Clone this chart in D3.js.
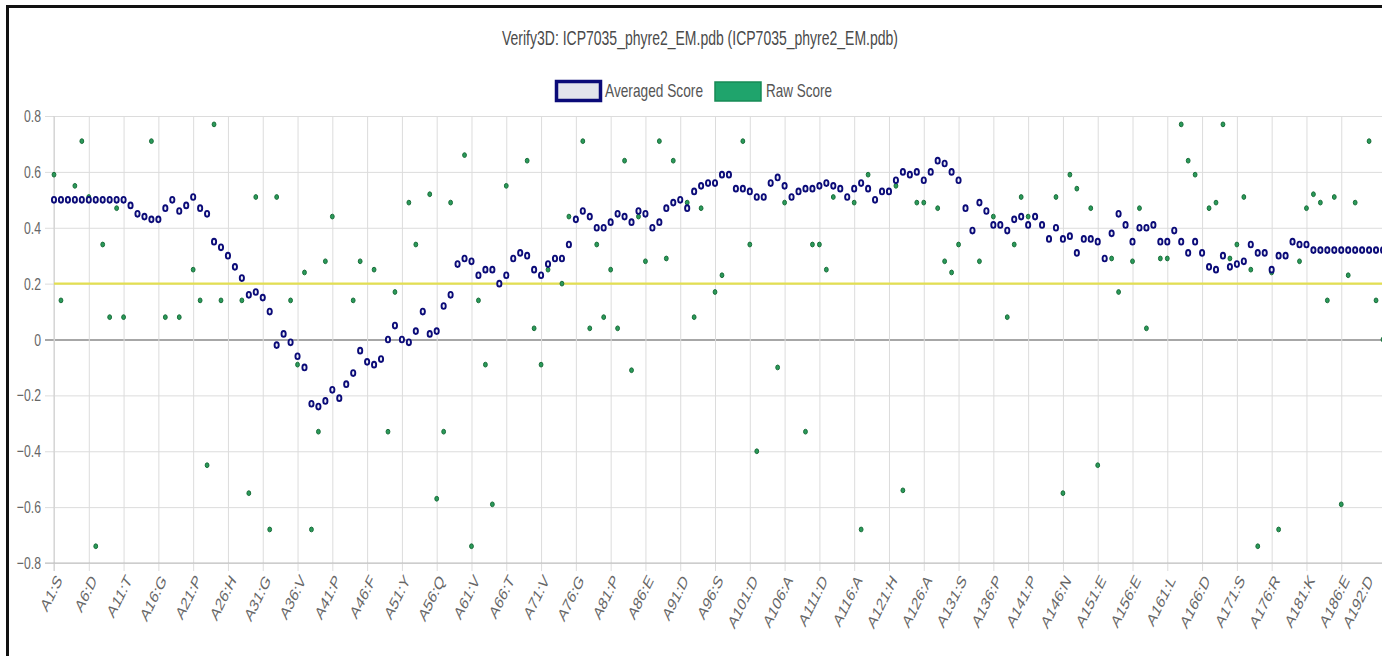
<!DOCTYPE html>
<html><head><meta charset="utf-8">
<script src="https://cdn.jsdelivr.net/npm/d3@7"></script>
<style>html,body{margin:0;padding:0;background:#fff;overflow:hidden}</style>
</head><body><svg id="c" width="1382" height="656"></svg>
<script>
const title = "Verify3D: ICP7035_phyre2_EM.pdb (ICP7035_phyre2_EM.pdb)";
const seriesNames = ["Averaged Score", "Raw Score"];
const residues = d3.range(1, 193);
const tickLabels = ["A1:S","A6:D","A11:T","A16:G","A21:P","A26:H","A31:G","A36:V","A41:P","A46:F",
  "A51:Y","A56:Q","A61:V","A66:T","A71:V","A76:G","A81:P","A86:E","A91:D","A96:S",
  "A101:D","A106:A","A111:D","A116:A","A121:H","A126:A","A131:S","A136:P","A141:P","A146:N",
  "A151:E","A156:E","A161:L","A166:D","A171:S","A176:R","A181:K","A186:E","A192:D"];
const yTicks = [0.8, 0.6, 0.4, 0.2, 0, -0.2, -0.4, -0.6, -0.8];
const threshold = 0.2;
const averaged = [
  0.50,0.50,0.50,0.50,0.50,0.50,0.50,0.50,0.50,0.50,
  0.50,0.48,0.45,0.44,0.43,0.43,0.47,0.50,0.46,0.48,
  0.51,0.47,0.45,0.35,0.33,0.30,0.26,0.22,0.16,0.17,
  0.15,0.10,-0.02,0.02,-0.01,-0.06,-0.10,-0.23,-0.24,-0.22,
  -0.18,-0.21,-0.16,-0.12,-0.04,-0.08,-0.09,-0.07,0.00,0.05,
  0.00,-0.01,0.03,0.10,0.02,0.03,0.12,0.16,0.27,0.29,
  0.28,0.23,0.25,0.25,0.20,0.23,0.29,0.31,0.30,0.25,
  0.23,0.27,0.29,0.29,0.34,0.43,0.46,0.44,0.40,0.40,
  0.42,0.45,0.44,0.42,0.46,0.45,0.40,0.42,0.47,0.49,
  0.50,0.47,0.53,0.55,0.56,0.56,0.59,0.59,0.54,0.54,
  0.53,0.51,0.51,0.56,0.58,0.55,0.51,0.53,0.54,0.54,
  0.55,0.56,0.55,0.54,0.51,0.54,0.56,0.54,0.50,0.53,
  0.53,0.57,0.60,0.59,0.60,0.57,0.60,0.64,0.63,0.60,
  0.57,0.47,0.39,0.49,0.46,0.41,0.41,0.39,0.43,0.44,
  0.41,0.44,0.41,0.36,0.40,0.36,0.37,0.31,0.36,0.36,
  0.35,0.29,0.38,0.45,0.41,0.35,0.40,0.40,0.41,0.35,
  0.35,0.39,0.35,0.31,0.35,0.31,0.26,0.25,0.30,0.26,
  0.27,0.28,0.34,0.31,0.31,0.25,0.30,0.30,0.35,0.34,
  0.34,0.32,0.32,0.32,0.32,0.32,0.32,0.32,0.32,0.32,
  0.32,0.32];
const raw = [
  0.59,0.14,0.50,0.55,0.71,0.51,-0.74,0.34,0.08,0.47,
  0.08,0.48,0.45,0.44,0.71,0.43,0.08,0.50,0.08,0.48,
  0.25,0.14,-0.45,0.77,0.14,0.30,0.26,0.14,-0.55,0.51,
  0.15,-0.68,0.51,0.02,0.14,-0.09,0.24,-0.68,-0.33,0.28,
  0.44,-0.21,-0.16,0.14,0.28,-0.08,0.25,-0.07,-0.33,0.17,
  0.00,0.49,0.34,0.10,0.52,-0.57,-0.33,0.49,0.27,0.66,
  -0.74,0.14,-0.09,-0.59,0.20,0.55,0.29,0.31,0.64,0.04,
  -0.09,0.25,0.29,0.20,0.44,0.43,0.71,0.04,0.34,0.08,
  0.25,0.04,0.64,-0.11,0.44,0.28,0.40,0.71,0.29,0.64,
  0.50,0.49,0.08,0.47,0.56,0.17,0.23,0.59,0.54,0.71,
  0.34,-0.40,0.51,0.56,-0.10,0.49,0.51,0.53,-0.33,0.34,
  0.34,0.25,0.51,0.54,0.51,0.49,-0.68,0.59,0.50,0.53,
  0.53,0.55,-0.54,0.59,0.49,0.49,0.60,0.47,0.28,0.24,
  0.34,0.47,0.39,0.28,0.46,0.44,0.41,0.08,0.34,0.51,
  0.44,0.44,0.41,0.36,0.51,-0.55,0.59,0.54,0.36,0.47,
  -0.45,0.29,0.29,0.17,0.41,0.28,0.47,0.04,0.41,0.29,
  0.29,0.39,0.77,0.64,0.59,0.31,0.47,0.49,0.77,0.29,
  0.34,0.51,0.25,-0.74,0.31,0.24,-0.68,0.30,0.35,0.28,
  0.47,0.52,0.49,0.14,0.51,-0.59,0.23,0.49,0.32,0.71,
  0.14,0.00];

(function () {
const svg = d3.select("#c");
const SX = 0.72; // horizontal text compression of the original capture
const x = d3.scalePoint().domain(residues).range([54, 1383]);
const y = d3.scaleLinear().domain([-0.8, 0.8]).range([563, 116]);
const pL = 54, pR = 1382, pT = 116, pB = 563;
const FONT = "Liberation Sans, Arial, sans-serif";

// frame
svg.append("rect").attr("x", 6).attr("y", 5).attr("width", 1376).attr("height", 3).attr("fill", "#111");
svg.append("rect").attr("x", 6).attr("y", 5).attr("width", 3).attr("height", 651).attr("fill", "#111");

// title
svg.append("text").attr("x", 700).attr("y", 45).attr("text-anchor", "middle")
  .attr("font-family", FONT).attr("font-size", 21)
  .attr("fill", "#4a4a4a").attr("textLength", 396).attr("lengthAdjust", "spacingAndGlyphs").text(title);

// legend
const lg = svg.append("g");
lg.append("rect").attr("x", 556.5).attr("y", 81.5).attr("width", 44).attr("height", 19)
  .attr("fill", "#e2e4ec").attr("stroke", "#0b0b78").attr("stroke-width", 3.5);
lg.append("text").attr("x", 605).attr("y", 97).attr("font-family", FONT)
  .attr("font-size", 19).attr("fill", "#555").attr("textLength", 98).attr("lengthAdjust", "spacingAndGlyphs").text(seriesNames[0]);
lg.append("rect").attr("x", 715).attr("y", 82).attr("width", 46).attr("height", 19)
  .attr("fill", "#1fa46c").attr("stroke", "#178a55").attr("stroke-width", 1.5);
lg.append("text").attr("x", 766).attr("y", 97).attr("font-family", FONT)
  .attr("font-size", 19).attr("fill", "#555").attr("textLength", 66).attr("lengthAdjust", "spacingAndGlyphs").text(seriesNames[1]);

// horizontal grid + y axis
const yAxis = d3.axisLeft(y).tickValues(yTicks).tickSize(-(pR - pL + 9)).tickPadding(0).tickFormat(d3.format(""));
const gy = svg.append("g").attr("transform", `translate(${pL - 9},0)`).call(yAxis);
gy.select(".domain").remove();
gy.selectAll(".tick line").attr("stroke", d => d === 0 ? "#8a8a8a" : "#dcdcdc").attr("stroke-width", d => d === 0 ? 1.3 : 1);
gy.selectAll(".tick text").remove();
yTicks.forEach(v => {
  svg.append("text").attr("transform", `translate(41,${y(v) + 6}) scale(${SX},1)`)
    .attr("text-anchor", "end").attr("font-family", FONT)
    .attr("font-size", 17).attr("fill", "#666").text(d3.format("")(v));
});

// vertical grid + x axis
const tickRes = tickLabels.map(s => +s.slice(1, s.indexOf(":")));
const xAxis = d3.axisBottom(x).tickValues(tickRes).tickSize(-(pB - pT) - 8).tickFormat("");
const gx = svg.append("g").attr("transform", `translate(0,${pB + 8})`).call(xAxis);
gx.select(".domain").remove();
gx.selectAll(".tick line").attr("stroke", "#dcdcdc");
svg.append("line").attr("x1", pL).attr("x2", pL).attr("y1", pT).attr("y2", pB + 8).attr("stroke", "#cfcfcf");
svg.append("line").attr("x1", pL - 9).attr("x2", pR).attr("y1", pB).attr("y2", pB).attr("stroke", "#bdbdbd");
tickLabels.forEach((s, i) => {
  const tx = Math.min(x(tickRes[i]) + 1, 1366);
  svg.append("text").attr("transform", `translate(${tx},${pB + 10}) scale(0.7,1) rotate(-55)`)
    .attr("text-anchor", "end").attr("dy", "0.75em").attr("font-family", FONT)
    .attr("font-size", 18).attr("fill", "#666").text(s);
});

// threshold line
svg.append("line").attr("x1", pL).attr("x2", pR).attr("y1", y(threshold)).attr("y2", y(threshold))
  .attr("stroke", "#e3df52").attr("stroke-width", 2.2);

// raw points
svg.append("g").selectAll("ellipse").data(raw).join("ellipse")
  .attr("cx", (d, i) => x(residues[i])).attr("cy", d => y(d))
  .attr("rx", 1.9).attr("ry", 2.4).attr("fill", "#2a9a5a").attr("stroke", "#1a6e3a").attr("stroke-width", 1);

// averaged points
svg.append("g").selectAll("ellipse").data(averaged).join("ellipse")
  .attr("cx", (d, i) => x(residues[i])).attr("cy", d => y(d))
  .attr("rx", 2.1).attr("ry", 2.9).attr("fill", "#eef0f6").attr("stroke", "#0b0b78").attr("stroke-width", 1.9);
})();
</script></body></html>
